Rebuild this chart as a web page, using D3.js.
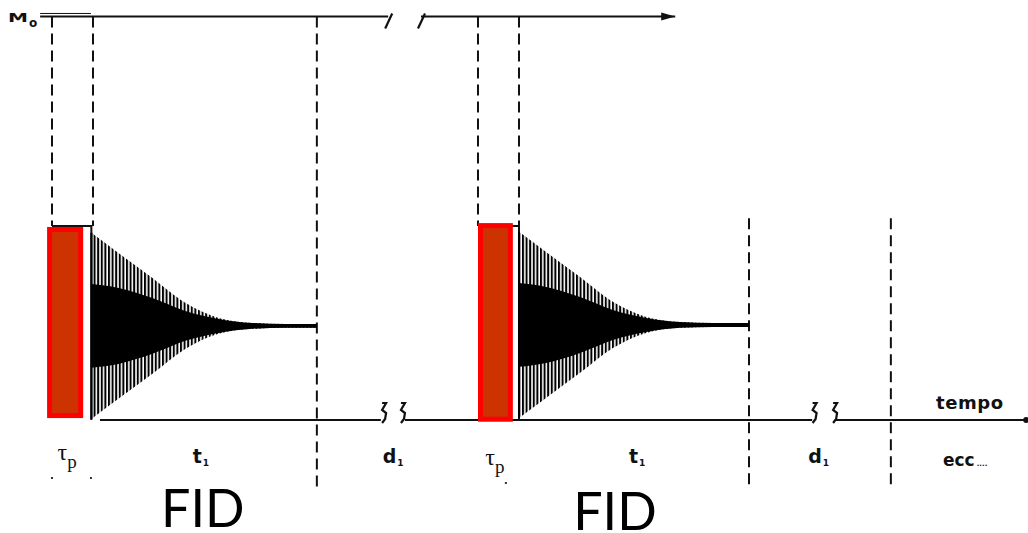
<!DOCTYPE html>
<html><head><meta charset="utf-8">
<script src="https://cdn.jsdelivr.net/npm/d3@7"></script>
<style>body{margin:0;background:#fff}svg{display:block}</style>
</head><body>
<svg id="c" width="1028" height="533"></svg>
<script>
// time in units of the pulse length (tau_p); magnetisation in units of pulse height
const pulseStart = [0, 10.39];
const pulseEnd = [0.96, 11.39];
const highlightStart = [-0.12, 10.39];
const highlightEnd = [0.76, 11.24];
const highlightTop = [0.995, 1.015];
const highlightBottom = [0.01, -0.009];
const fidEnd = [6.46, 17.0];
const fidCenter = [0.485, 0.49];
const fidTime = [0, 0.66, 1.49, 2.29, 3.1, 3.93, 4.73];
const fidOuter = [0.48, 0.376, 0.247, 0.119, 0.041, 0.015, 0.01];
const fidInner = [0.216, 0.196, 0.144, 0.077, 0.036, 0.015, 0.01];
const m0Level = 2.08;
const dashTimes = [0, 1.0, 6.46, 10.39, 11.39, 17.0, 20.46];
const dashTop = [2.08, 2.08, 2.08, 2.08, 2.08, 1.04, 1.04];
const dashBottom = [1, 1, -0.35, 1, 1, -0.35, -0.35];
const topAxisStart = [-0.29, 9.0];
const topAxisEnd = [8.2, 15.2];
const baseAxisStart = [1.17, 8.61, 19.12];
const baseAxisEnd = [8.02, 18.54, 23.76];
const breakTimes = [8.1, 8.56, 18.6, 19.1];
const tauLabelTimes = [0.37, 10.8];
const tLabelTimes = [3.63, 14.27];
const dLabelTimes = [8.32, 18.7];
const fidLabelTimes = [3.68, 13.73];
const fidLabels = ["FID", "FID"];
const axisLabel = "tempo";
const moreLabel = "ecc";

const svg = d3.select("#c");
const x = d3.scaleLinear().domain([0, 24]).range([52, 1036]);
const y = d3.scaleLinear().domain([0, 1]).range([420, 226]);

const defs = svg.append("defs");
const pat = defs.append("pattern").attr("id", "hatch").attr("patternUnits", "userSpaceOnUse")
  .attr("width", 3.6).attr("height", 20);
pat.append("rect").attr("x", 0).attr("y", 0).attr("width", 2).attr("height", 20).attr("fill", "#000");

const ink = "#111";

// top M0 line
topAxisStart.forEach((s, i) => {
  svg.append("line").attr("x1", x(s)).attr("x2", x(topAxisEnd[i]))
    .attr("y1", y(m0Level)).attr("y2", y(m0Level)).attr("stroke", ink).attr("stroke-width", 2.2);
});
svg.append("line").attr("x1", x(-0.29)).attr("x2", x(0.95)).attr("y1", y(m0Level) - 3).attr("y2", y(m0Level) - 3)
  .attr("stroke", ink).attr("stroke-width", 1);
// break slashes on top line
[8.2, 9.0].forEach(t => {
  svg.append("line").attr("x1", x(t) + 4).attr("y1", y(m0Level) - 3).attr("x2", x(t) - 3).attr("y2", y(m0Level) + 12)
    .attr("stroke", ink).attr("stroke-width", 2.2);
});
// arrow head
const ax = x(topAxisEnd[1]);
svg.append("path").attr("d", `M${ax},${y(m0Level)} l-14,-4 l0,8 z`).attr("fill", ink);
// M0 label
svg.append("text").attr("x", 8).attr("y", 22).attr("font-family", "DejaVu Sans").attr("font-weight", "bold")
  .attr("font-size", 13).attr("textLength", 20).attr("lengthAdjust", "spacingAndGlyphs").attr("fill", ink).text("M");
svg.append("text").attr("x", 29).attr("y", 27).attr("font-family", "DejaVu Sans").attr("font-weight", "bold")
  .attr("font-size", 12).attr("fill", ink).text("o");

// dashed lines
dashTimes.forEach((t, i) => {
  svg.append("line").attr("x1", x(t)).attr("x2", x(t)).attr("y1", y(dashTop[i])).attr("y2", y(dashBottom[i]))
    .attr("stroke", ink).attr("stroke-width", 2).attr("stroke-dasharray", "11,6");
});

// baseline axis
baseAxisStart.forEach((s, i) => {
  svg.append("line").attr("x1", x(s)).attr("x2", x(baseAxisEnd[i])).attr("y1", y(0)).attr("y2", y(0))
    .attr("stroke", ink).attr("stroke-width", 2);
});
svg.append("circle").attr("cx", x(baseAxisEnd[2])).attr("cy", y(0)).attr("r", 3).attr("fill", ink);
// break squiggles
breakTimes.forEach(t => {
  const bx = x(t), by = y(0);
  svg.append("path").attr("d", `M${bx - 2},${by - 17} l4,0 l-4,7 l4,3 l-1,6 l-3,4`)
    .attr("fill", "none").attr("stroke", ink).attr("stroke-width", 2.2);
});

// pulses (black outline)
pulseStart.forEach((s, i) => {
  svg.append("path").attr("d", `M${x(s)},${y(1)} H${x(pulseEnd[i])} V${y(0)}`)
    .attr("fill", "none").attr("stroke", ink).attr("stroke-width", 2);
});

// FIDs
pulseEnd.forEach((s, i) => {
  const c = fidCenter[i];
  const pts = fidTime.map((t, k) => ({ t: s + t, o: fidOuter[k], n: fidInner[k] }));
  pts.push({ t: fidEnd[i], o: fidOuter[fidOuter.length - 1], n: fidInner[fidInner.length - 1] });
  const outer = d3.area().x(d => x(d.t)).y0(d => y(c - d.o)).y1(d => y(c + d.o)).curve(d3.curveMonotoneX);
  const inner = d3.area().x(d => x(d.t)).y0(d => y(c - d.n)).y1(d => y(c + d.n)).curve(d3.curveMonotoneX);
  svg.append("path").attr("d", outer(pts)).attr("fill", "url(#hatch)");
  svg.append("path").attr("d", inner(pts)).attr("fill", "#000");
  svg.append("line").attr("x1", x(s)).attr("x2", x(fidEnd[i])).attr("y1", y(c)).attr("y2", y(c))
    .attr("stroke", "#000").attr("stroke-width", 2.5);
  svg.append("line").attr("x1", x(s)).attr("x2", x(s)).attr("y1", y(c + fidOuter[0])).attr("y2", y(c - fidOuter[0]))
    .attr("stroke", "#000").attr("stroke-width", 2);
});

// red highlights
highlightStart.forEach((s, i) => {
  const x0 = x(s) + 2.5, x1 = x(highlightEnd[i]) - 2.5;
  const y0 = y(highlightTop[i]) + 2.5, y1 = y(highlightBottom[i]) - 2.5;
  svg.append("rect").attr("x", x0).attr("y", y0).attr("width", x1 - x0).attr("height", y1 - y0)
    .attr("fill", "#CC3300").attr("stroke", "#FF0000").attr("stroke-width", 5);
});

// labels
tauLabelTimes.forEach((t, i) => {
  const g = svg.append("text").attr("x", x(t)).attr("y", 460 + i * 5).attr("text-anchor", "middle")
    .attr("font-family", "Liberation Serif").attr("font-size", 24).attr("fill", ink);
  g.append("tspan").text("τ");
  g.append("tspan").attr("font-size", 19).attr("dy", 8).text("p");
});
[[0, 478], [0.95, 478], [11.07, 483]].forEach(d => {
  svg.append("rect").attr("x", x(d[0]) - 1).attr("y", d[1] - 1).attr("width", 2).attr("height", 2).attr("fill", "#333");
});
[[tLabelTimes, "t"], [dLabelTimes, "d"]].forEach(([times, ch]) => {
  times.forEach(t => {
    const g = svg.append("text").attr("x", x(t)).attr("y", 463).attr("text-anchor", "middle")
      .attr("font-family", "DejaVu Sans").attr("font-weight", "bold").attr("font-size", 19).attr("fill", ink);
    g.append("tspan").text(ch);
    g.append("tspan").attr("font-size", 9).attr("dy", 3).attr("dx", 1).text("1");
  });
});
fidLabelTimes.forEach((t, i) => {
  svg.append("text").attr("x", x(t)).attr("y", 527 + i * 3).attr("text-anchor", "middle")
    .attr("font-family", "Lato").attr("font-size", 52).attr("fill", "#000").text(fidLabels[i]);
});
svg.append("text").attr("x", 936).attr("y", 409).attr("font-family", "DejaVu Sans").attr("font-weight", "bold")
  .attr("font-size", 18).attr("letter-spacing", 0.6).attr("fill", ink).text(axisLabel);
const ecc = svg.append("text").attr("x", 943).attr("y", 466).attr("font-family", "DejaVu Sans").attr("font-weight", "bold")
  .attr("font-size", 17).attr("fill", ink);
ecc.append("tspan").text(moreLabel);
ecc.append("tspan").attr("font-size", 7).attr("dx", 2).text("....");
</script>
</body></html>
